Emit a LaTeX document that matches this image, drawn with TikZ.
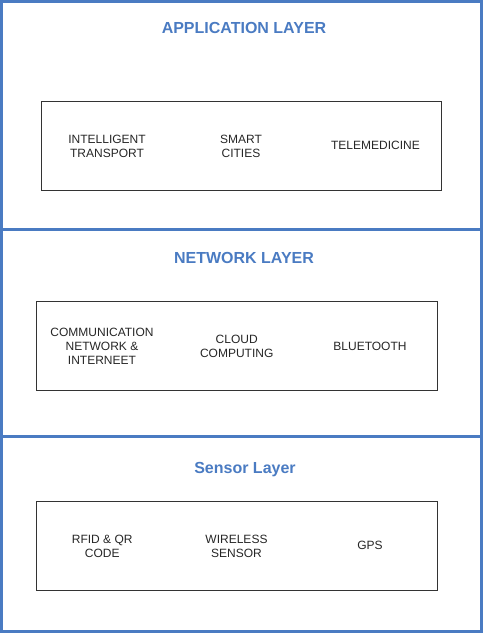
\documentclass[tikz,border=0pt]{standalone}
\usepackage{fontspec}
\setmainfont{Liberation Sans}
\definecolor{layerblue}{HTML}{4A7BC2}
\begin{document}
\begin{tikzpicture}[x=1pt,y=-1pt,
  layerbox/.style={draw=layerblue,line width=3pt},
  layertitle/.style={text=layerblue,font=\fontsize{16}{19}\selectfont\bfseries,anchor=base,inner sep=0pt},
  groupbox/.style={draw=black!80,line width=1pt},
  item/.style={font=\fontsize{12}{14.4}\selectfont,align=center,inner sep=0pt,text=black!85,anchor=center}]
\useasboundingbox (0,0) rectangle (484,633);
% layers
\draw[layerbox] (1.5,1.5) rectangle (481.5,229);
\draw[layerbox] (1.5,229) rectangle (481.5,436.5);
\draw[layerbox] (1.5,436.5) rectangle (481.5,631.5);
% titles
\node[layertitle] (tapp) at (244,33) {APPLICATION LAYER};
\node[layertitle] (tnet) at (244,263) {NETWORK LAYER};
\node[layertitle] (tsen) at (245,473) {Sensor Layer};
% group boxes
\draw[groupbox] (41,101.5) rectangle (441,190);
\draw[groupbox] (36.5,301.5) rectangle (437,390.5);
\draw[groupbox] (36.5,501.5) rectangle (437,590.5);
% application items
\node[item] (its) at (107,146.3) {INTELLIGENT\\TRANSPORT};
\node[item] (smc) at (241,146.3) {SMART\\CITIES};
\node[item] (tel) at (375.5,145.7) {TELEMEDICINE};
% network items
\node[item] (com) at (102,346.3) {COMMUNICATION\\NETWORK \&\\INTERNEET};
\node[item] (cld) at (236.7,346.3) {CLOUD\\COMPUTING};
\node[item] (blt) at (370,346.3) {BLUETOOTH};
% sensor items
\node[item] (rfid) at (102.2,546.2) {RFID \& QR\\CODE};
\node[item] (wls) at (236.5,546.2) {WIRELESS\\SENSOR};
\node[item] (gps) at (370,545.7) {GPS};
\end{tikzpicture}
\end{document}
